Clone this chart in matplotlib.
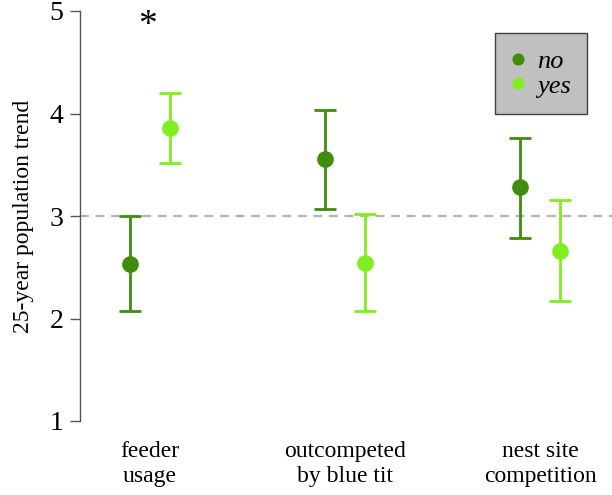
import matplotlib
matplotlib.use('Agg')
import matplotlib.pyplot as plt
import numpy as np

# data
categories = ['feeder\nusage', 'outcompeted\nby blue tit', 'nest site\ncompetition']
no_mean = [2.53, 3.56, 3.28]
no_low = [2.07, 3.07, 2.79]
no_high = [3.00, 4.03, 3.76]
yes_mean = [3.86, 2.54, 2.66]
yes_low = [3.52, 2.07, 2.17]
yes_high = [4.20, 3.02, 3.16]

col_no = '#408c0c'
col_yes = '#80ee1e'

plt.rcParams['font.family'] = ['Liberation Serif', 'DejaVu Serif']

fig = plt.figure(figsize=(6.12, 4.95), dpi=100)
ax = fig.add_axes([80 / 612, 1 - 421 / 495, 532 / 612, 410 / 495])

x = np.arange(1, len(categories) + 1)
off = 0.1026

# reference line at 3
ax.axhline(3, color='#b4b4b4', linestyle=(0, (4, 3)), linewidth=1.6, zorder=1)

for xs, m, lo, hi, c, lab in [(x - off, no_mean, no_low, no_high, col_no, 'no'),
                              (x + off, yes_mean, yes_low, yes_high, col_yes, 'yes')]:
    m = np.array(m)
    err = [m - np.array(lo), np.array(hi) - m]
    ax.errorbar(xs, m, yerr=err, fmt='none', ecolor=c, elinewidth=2.0,
                capsize=8, capthick=2.0, zorder=2)
    ax.plot(xs, m, 'o', color=c, markersize=11, zorder=3, label=lab)

ax.set_xlim(1 - 70 / 195, 3 + 72 / 195)
ax.set_ylim(1, 5)
ax.set_yticks([1, 2, 3, 4, 5])
ax.tick_params(axis='y', labelsize=20, length=7, width=1, color='#555555', pad=5)
ax.set_xticks([])
for s in ['top', 'right', 'bottom']:
    ax.spines[s].set_visible(False)
ax.spines['left'].set_color('#555555')
ax.spines['left'].set_linewidth(1)
ax.set_ylabel('25-year population trend', fontsize=17, labelpad=11)

# category labels under the axis
for xi, c in zip(x, categories):
    ax.text(xi, 0.58, c, ha='center', va='center', fontsize=17,
            linespacing=1.25, clip_on=False)

# significance star
ax.text(x[0] - 0.015, 4.86, '*', ha='center', va='center', fontsize=27)

leg = ax.legend(loc='upper right', bbox_to_anchor=(587 / 612, 1 - 33 / 495),
                bbox_transform=fig.transFigure, frameon=True, fancybox=False,
                facecolor='#c0c0c0', edgecolor='#404040', framealpha=1,
                prop={'style': 'italic', 'size': 19}, markerscale=0.7,
                handlelength=0.5, handletextpad=0.45, borderpad=0.62,
                labelspacing=0.05, borderaxespad=0)
leg.get_frame().set_linewidth(1.0)

plt.savefig('out.png', dpi=100)
